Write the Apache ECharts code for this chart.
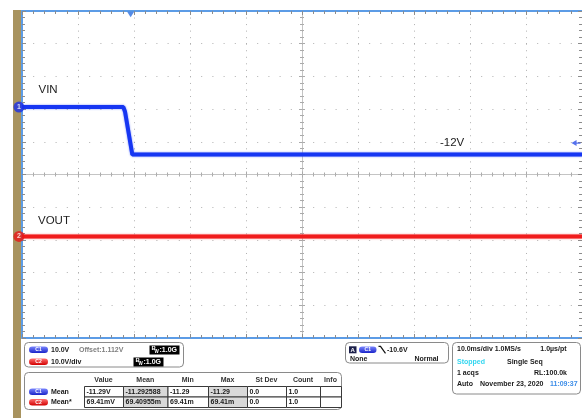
<!DOCTYPE html>
<html><head><meta charset="utf-8">
<script src="https://cdn.jsdelivr.net/npm/echarts@6.0.0/dist/echarts.min.js"></script>
<style>html,body{margin:0;padding:0;background:#fff}#c{width:582px;height:418px}</style>
</head><body><div id="c"></div>
<script>
// ---- data (time in ms, 10 ms/div; volts) ----
const timeRange = [0, 100];
const divRange = [-5, 5];
const vinTime  = [0, 18.1, 18.4, 19.7, 100];
const vinVolts = [0.41, 0.41, -1.0, -14.1, -14.1];
const voutTime  = [0, 100];
const voutVolts = [0.069, 0.069];
const vinAxisRange  = [-70.2, 29.8];   // 10 V/div
const voutAxisRange = [-31, 69];       // 10 V/div
const triggerTime = 19.4;
const triggerLevel = -10.6;
const channelMarkers = [0.41, 0.069];
const traceLabels = ['VIN', 'VOUT', '-12V'];
const measHeaders = ['Value', 'Mean', 'Min', 'Max', 'St Dev', 'Count', 'Info'];
const measC1 = ['-11.29V', '-11.292588', '-11.29', '-11.29', '0.0', '1.0', ''];
const measC2 = ['69.41mV', '69.40955m', '69.41m', '69.41m', '0.0', '1.0', ''];

const zip = (a, b) => a.map((v, i) => [v, b[i]]);

const BORDER = '#5c9ce6', TICK = '#8c8c8c', DOT = '#b0b0b0', CENTER = '#c4c4c4';
const F = 'bold 7px "Liberation Sans", Arial, sans-serif';

function frameAxis(pos, withSplit, dash) {
  const isX = pos === 'top' || pos === 'bottom';
  return {
    type: 'value', min: isX ? timeRange[0] : divRange[0], max: isX ? timeRange[1] : divRange[1],
    interval: isX ? 10 : 1, position: pos,
    axisLine: { show: pos !== 'right', onZero: false, lineStyle: { color: BORDER, width: 2 } },
    axisTick: { show: true, inside: true, length: 4, lineStyle: { color: TICK } },
    minorTick: { show: true, splitNumber: 5, length: 3, lineStyle: { color: TICK } },
    axisLabel: { show: false },
    splitLine: { show: withSplit, lineStyle: { color: DOT, width: 1, type: dash } },
    z: 3
  };
}
function centerAxis(pos, inside, isX) {
  return {
    type: 'value', min: isX ? timeRange[0] : divRange[0], max: isX ? timeRange[1] : divRange[1],
    interval: isX ? 10 : 1, position: pos, offset: isX ? -163.5 : -280,
    axisLine: { show: inside, onZero: false, lineStyle: { color: CENTER, width: 1 } },
    axisTick: { show: true, inside: inside, length: 3, lineStyle: { color: '#aaa' } },
    minorTick: { show: true, splitNumber: 5, length: 2, lineStyle: { color: '#aaa' } },
    axisLabel: { show: false }, splitLine: { show: false }, z: 2
  };
}

function txt(x, y, s, o) {
  o = o || {};
  const al = o.align || 'left';
  return { type: 'text', x: x, y: y, z: 20, style: {
    text: s, font: o.font || F, fill: o.fill || '#1a1a1a',
    textAlign: al, align: al, textVerticalAlign: 'middle', verticalAlign: 'middle' } };
}
function rr(x, y, w, h, r, fill, stroke) {
  return { type: 'rect', z: 15, shape: { x: x, y: y, width: w, height: h, r: r },
    style: { fill: fill, stroke: stroke || null, lineWidth: 1 } };
}
function pill(x, y, blue, label, w) {
  w = w || 19;
  const stops = blue ? [{ offset: 0, color: '#7a86ff' }, { offset: 1, color: '#1a24c8' }]
                     : [{ offset: 0, color: '#ff7070' }, { offset: 1, color: '#d20000' }];
  return [
    { type: 'rect', z: 16, shape: { x: x, y: y, width: w, height: 6.5, r: 3.25 },
      style: { fill: { type: 'linear', x: 0, y: 0, x2: 0, y2: 1, colorStops: stops } } },
    txt(x + w / 2, y + 3.4, label, { align: 'center', fill: '#fff', font: 'bold 5px "Liberation Sans", Arial' })
  ];
}
function bwBox(x, y) {
  return [
    rr(x, y, 30, 9, 0, '#000'),
    txt(x + 2, y + 3, 'B', { fill: '#fff', font: 'bold 6px "Liberation Sans", Arial' }),
    txt(x + 5, y + 6.5, 'W', { fill: '#fff', font: 'bold 4.5px "Liberation Sans", Arial' }),
    txt(x + 10, y + 4.7, ':1.0G', { fill: '#fff' })
  ];
}

const g = [];
// tan strip
g.push({ type: 'rect', z: -10, shape: { x: 13, y: 10, width: 8, height: 408 }, style: { fill: '#a8935f' } });
// trace labels
const LF = '11.5px "Liberation Sans", Arial, sans-serif';
g.push(txt(38.5, 90.3, traceLabels[0], { font: LF, fill: '#222' }));
g.push(txt(38, 221.2, traceLabels[1], { font: LF, fill: '#222' }));
g.push(txt(440, 143.3, traceLabels[2], { font: LF, fill: '#222' }));

// box 1 : channel settings
g.push(rr(24.5, 342.5, 159, 24.5, 4, '#fff', '#8a8a8a'));
g.push(...pill(29, 346.5, true, 'C1'));
g.push(txt(51, 350, '10.0V'));
g.push(txt(79, 350, 'Offset:1.112V', { fill: '#808080' }));
g.push(...bwBox(149.5, 345.5));
g.push(...pill(29, 358.5, false, 'C2'));
g.push(txt(51, 362, '10.0V/div'));
g.push(...bwBox(133.5, 357.5));

// box 2 : measurements
const colX = [84, 123, 167.5, 208, 247, 286, 320, 341];
g.push(rr(24.5, 372.5, 317, 37, 4, '#fff', '#8a8a8a'));
measHeaders.forEach((h, i) => g.push(txt((colX[i] + colX[i + 1]) / 2, 380.5, h, { align: 'center', fill: '#333' })));
[measC1, measC2].forEach((row, r) => {
  const y0 = 386.5 + r * 10.5;
  row.forEach((v, c) => {
    g.push(rr(colX[c] + 0.5, y0, colX[c + 1] - colX[c], 10.5, 0, (c === 1 || c === 3) ? '#d9d9d9' : '#fff', '#3a3a3a'));
    if (v) g.push(txt(colX[c] + 2.5, y0 + 5.5, v));
  });
});
g.push(...pill(29, 388.5, true, 'C1'));
g.push(txt(51, 391.7, 'Mean'));
g.push(...pill(29, 399, false, 'C2'));
g.push(txt(51, 402.3, 'Mean*'));

// box 3 : trigger
g.push(rr(345.5, 342.5, 103, 20.5, 4, '#fff', '#8a8a8a'));
g.push(rr(349, 346.3, 7.5, 7, 0, '#1b1f4a'));
g.push(txt(352.7, 350, 'A', { align: 'center', fill: '#fff', font: 'bold 6px "Liberation Sans", Arial' }));
g.push(...pill(359, 346.5, true, 'C1', 17.5));
g.push({ type: 'polyline', z: 16, shape: { points: [[378.5, 346.3], [380.5, 346.3], [385.5, 353.3]] }, style: { stroke: '#111', lineWidth: 1.2, fill: null } });
g.push(txt(387, 349.7, '-10.6V'));
g.push(txt(350, 359, 'None'));
g.push(txt(438.5, 359, 'Normal', { align: 'right' }));

// box 4 : acquisition
g.push(rr(452.5, 342.5, 128, 51.5, 4, '#fff', '#8a8a8a'));
g.push(txt(457, 349.5, '10.0ms/div 1.0MS/s'));
g.push(txt(566.5, 349.5, '1.0\u00b5s/pt', { align: 'right' }));
g.push(txt(457, 361.7, 'Stopped', { fill: '#33d6f0' }));
g.push(txt(507, 361.7, 'Single Seq'));
g.push(txt(457, 373.3, '1 acqs'));
g.push(txt(567, 373.3, 'RL:100.0k', { align: 'right' }));
g.push(txt(457, 384.5, 'Auto'));
g.push(txt(480, 384.5, 'November 23, 2020'));
g.push(txt(550, 384.5, '11:09:37', { fill: '#3c8de8' }));

const chart = echarts.init(document.getElementById('c'), null, { renderer: 'canvas' });
chart.setOption({
  animation: false,
  backgroundColor: '#fff',
  grid: { left: 22, top: 11, right: 0, bottom: 80, containLabel: false, outerBoundsMode: 'none' },
  xAxis: [
    frameAxis('bottom', true, [1, 5.54]),
    frameAxis('top', false),
    centerAxis('bottom', true, true),
    centerAxis('bottom', false, true)
  ],
  yAxis: [
    frameAxis('left', true, [1, 10.2]),
    frameAxis('right', false),
    centerAxis('left', true, false),
    centerAxis('left', false, false),
    { type: 'value', show: false, min: vinAxisRange[0], max: vinAxisRange[1], splitLine: { show: false } },
    { type: 'value', show: false, min: voutAxisRange[0], max: voutAxisRange[1], splitLine: { show: false } }
  ],
  series: [
    { type: 'line', xAxisIndex: 0, yAxisIndex: 5, data: zip(voutTime, voutVolts), symbol: 'none',
      lineStyle: { color: '#f01c1c', width: 4, shadowBlur: 2, shadowColor: 'rgba(255,60,60,0.7)' }, z: 5 },
    { type: 'line', xAxisIndex: 0, yAxisIndex: 4, data: zip(vinTime, vinVolts), symbol: 'none',
      lineStyle: { color: '#1636f2', width: 4, shadowBlur: 2, shadowColor: 'rgba(50,80,255,0.7)' }, z: 5 },
    { type: 'scatter', xAxisIndex: 0, yAxisIndex: 4, data: [[timeRange[0], channelMarkers[0]]], clip: false,
      symbol: 'circle', symbolSize: 11, symbolOffset: [-3, 0], itemStyle: { color: '#1a30e8' }, z: 30, zlevel: 1,
      label: { show: true, position: 'inside', formatter: '1', color: '#fff', fontSize: 7, fontWeight: 'bold' } },
    { type: 'scatter', xAxisIndex: 0, yAxisIndex: 5, data: [[timeRange[0], channelMarkers[1]]], clip: false,
      symbol: 'circle', symbolSize: 11, symbolOffset: [-3, 0], itemStyle: { color: '#e81818' }, z: 30, zlevel: 1,
      label: { show: true, position: 'inside', formatter: '2', color: '#fff', fontSize: 7, fontWeight: 'bold' } },
    { type: 'scatter', xAxisIndex: 0, yAxisIndex: 0, data: [[triggerTime, divRange[1]]], clip: false,
      symbol: 'path://M0,0 L10,0 L5,8 Z', symbolSize: [7, 5.5], symbolOffset: [0, 3.5], itemStyle: { color: '#2a6ee0' }, z: 8 },
    { type: 'scatter', xAxisIndex: 0, yAxisIndex: 4, data: [[timeRange[1], triggerLevel]], clip: false,
      symbol: 'path://M0,5 L9,0 L9,4 L16,4 L16,6 L9,6 L9,10 Z', symbolSize: [9, 6], symbolOffset: [-6, 0], itemStyle: { color: '#2a4ee8' }, z: 8 }
  ],
  graphic: { elements: g }
});
</script></body></html>
